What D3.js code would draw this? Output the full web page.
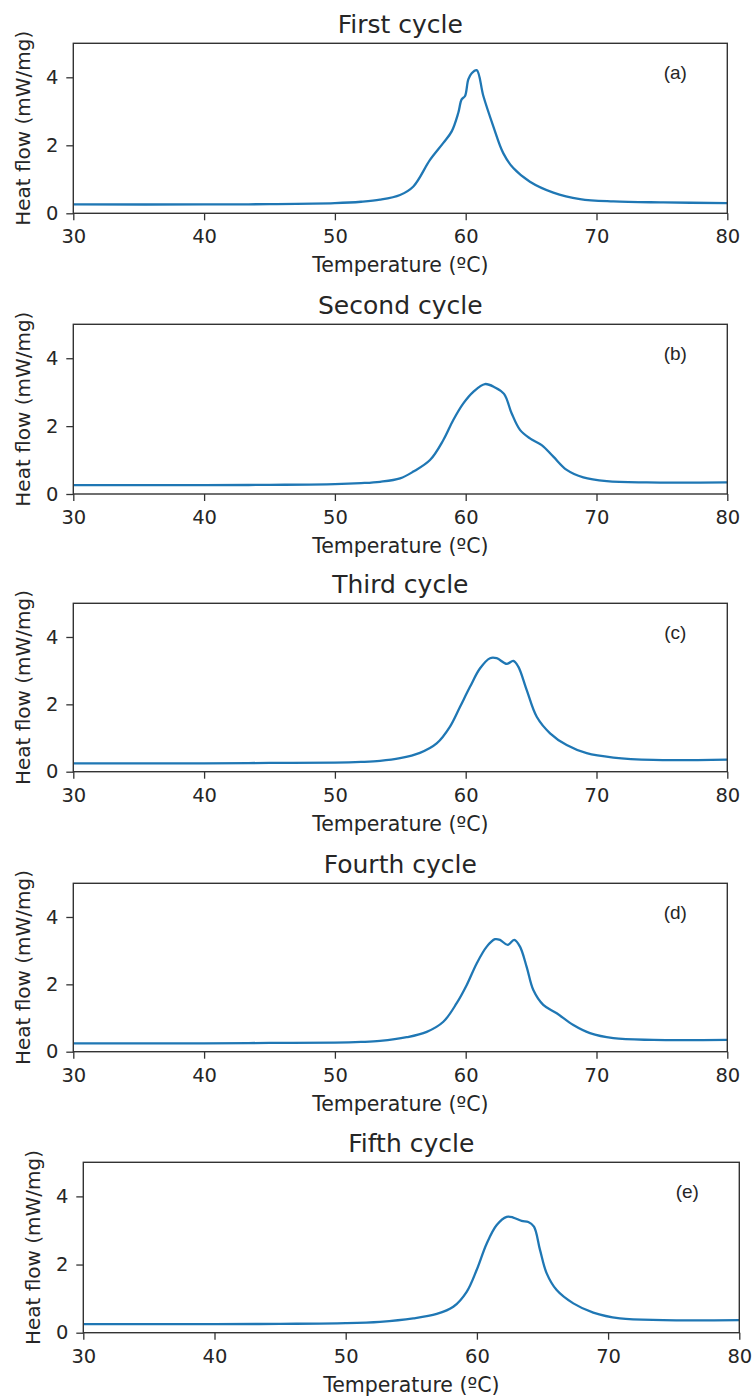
<!DOCTYPE html>
<html>
<head>
<meta charset="utf-8">
<script src="https://cdn.jsdelivr.net/npm/d3@7"></script>
<style>
  body { margin: 0; background: #fff; }
  svg text { font-family: "DejaVu Sans", sans-serif; fill: #262626; }
</style>
</head>
<body>
<div id="chart"></div>
<script>
// DSC heating curves, five cycles
var titles = ["First cycle", "Second cycle", "Third cycle", "Fourth cycle", "Fifth cycle"];
var panelLabels = ["(a)", "(b)", "(c)", "(d)", "(e)"];
var xTicks = [30, 40, 50, 60, 70, 80];
var yTicks = [0, 2, 4];

var temps1 = [30, 40, 45, 50, 52, 53.45, 54.98, 56.0, 57.27, 58.29, 58.93, 59.43, 59.69, 59.95, 60.2, 60.46, 60.84, 61.35, 62.11, 62.87, 63.64, 64.91, 66.7, 68.74, 71.29, 75.1, 80];
var flow1  = [0.26, 0.26, 0.27, 0.3, 0.34, 0.4, 0.54, 0.79, 1.57, 2.07, 2.41, 2.95, 3.35, 3.45, 3.94, 4.12, 4.21, 3.45, 2.56, 1.77, 1.33, 0.93, 0.61, 0.42, 0.35, 0.32, 0.30];

var temps2 = [30, 40, 45, 50, 52, 53.45, 54.98, 56.0, 57.27, 58.29, 59.05, 59.82, 60.58, 61.47, 62.24, 62.93, 63.51, 64.15, 64.91, 65.81, 66.7, 67.72, 68.99, 70.78, 73.84, 80];
var flow2  = [0.26, 0.26, 0.27, 0.29, 0.32, 0.36, 0.46, 0.66, 1.0, 1.59, 2.18, 2.67, 3.01, 3.24, 3.14, 2.95, 2.38, 1.89, 1.64, 1.44, 1.1, 0.71, 0.49, 0.38, 0.34, 0.34];

var temps3 = [30, 40, 45, 50, 52, 53.45, 54.98, 56.5, 57.78, 58.8, 59.57, 60.33, 61.1, 61.86, 62.37, 63.14, 63.64, 64.02, 64.66, 65.43, 66.45, 67.72, 69.25, 71.29, 74.34, 80];
var flow3  = [0.25, 0.25, 0.26, 0.27, 0.29, 0.32, 0.40, 0.56, 0.84, 1.34, 1.93, 2.52, 3.07, 3.37, 3.37, 3.2, 3.29, 3.12, 2.43, 1.63, 1.14, 0.79, 0.55, 0.42, 0.35, 0.36];

var temps4 = [30, 40, 45, 50, 52, 53.45, 55.49, 57.02, 58.29, 59.31, 60.08, 60.84, 61.61, 62.24, 62.62, 63.21, 63.71, 64.15, 64.66, 65.17, 65.93, 66.96, 68.23, 69.5, 71.29, 74.34, 80];
var flow4  = [0.25, 0.25, 0.26, 0.27, 0.29, 0.32, 0.43, 0.59, 0.89, 1.44, 1.98, 2.62, 3.12, 3.34, 3.32, 3.17, 3.32, 3.12, 2.52, 1.83, 1.39, 1.14, 0.79, 0.55, 0.40, 0.35, 0.35];

var temps5 = [30, 40, 45, 50, 52.61, 55.15, 56.94, 58.2, 59.22, 59.98, 60.75, 61.51, 62.27, 62.77, 63.41, 63.92, 64.35, 64.81, 65.32, 66.08, 67.35, 68.87, 70.9, 74.2, 80];
var flow5  = [0.25, 0.25, 0.26, 0.28, 0.32, 0.42, 0.55, 0.76, 1.2, 1.84, 2.62, 3.16, 3.4, 3.38, 3.28, 3.25, 3.11, 2.43, 1.74, 1.25, 0.86, 0.59, 0.42, 0.37, 0.37];

var allTemps = [temps1, temps2, temps3, temps4, temps5];
var allFlows = [flow1, flow2, flow3, flow4, flow5];

// plot frame of each panel (left, right, top, bottom) in page pixels
var frames = [
    [73.3, 727.3, 43.3, 213.3],
    [73.3, 727.3, 324.3, 494],
    [73.3, 727.3, 603.3, 771.7],
    [73.3, 727.3, 883.3, 1051.7],
    [83.3, 739.3, 1162.3, 1332.7]
];

var svg = d3.select("#chart").append("svg")
    .attr("width", 756)
    .attr("height", 1396);

frames.forEach(function (f, i) {
    var left = f[0], right = f[1], top = f[2], bottom = f[3];
    var x = d3.scaleLinear().domain([30, 80]).range([left, right]);
    var y = d3.scaleLinear().domain([0, 5]).range([bottom, top]);

    var g = svg.append("g").attr("class", "panel");

    // data line
    var data = allTemps[i].map(function (t, k) { return [t, allFlows[i][k]]; });
    var line = d3.line()
        .x(function (d) { return x(d[0]); })
        .y(function (d) { return y(d[1]); })
        .curve(d3.curveCatmullRom.alpha(0.5));

    g.append("path")
        .datum(data)
        .attr("d", line)
        .attr("fill", "none")
        .attr("stroke", "#1f77b4")
        .attr("stroke-width", 2.3);

    // axes
    var xAxis = d3.axisBottom(x).tickValues(xTicks).tickSize(7).tickPadding(9);
    var yAxis = d3.axisLeft(y).tickValues(yTicks).tickSize(7).tickPadding(8)
        .tickFormat(d3.format("d"));

    var gx = g.append("g").attr("transform", "translate(0," + bottom + ")").call(xAxis);
    var gy = g.append("g").attr("transform", "translate(" + left + ",0)").call(yAxis);
    [gx, gy].forEach(function (a) {
        a.select(".domain").remove();
        a.selectAll(".tick line").attr("stroke", "#333").attr("stroke-width", 1.3);
        a.selectAll(".tick text")
            .attr("font-family", "DejaVu Sans")
            .attr("font-size", 19.5)
            .attr("fill", "#262626");
    });

    // frame
    g.append("rect")
        .attr("x", left).attr("y", top)
        .attr("width", right - left).attr("height", bottom - top)
        .attr("fill", "none")
        .attr("stroke", "#333")
        .attr("stroke-width", 1.4);

    // title
    g.append("text")
        .attr("x", (left + right) / 2)
        .attr("y", top - 10)
        .attr("text-anchor", "middle")
        .attr("font-size", 25)
        .text(titles[i]);

    // x label
    g.append("text")
        .attr("x", (left + right) / 2)
        .attr("y", bottom + 59)
        .attr("text-anchor", "middle")
        .attr("font-size", 20.5)
        .text("Temperature (ºC)");

    // y label
    g.append("text")
        .attr("transform", "translate(" + (left - 43) + "," + ((top + bottom) / 2) + ") rotate(-90)")
        .attr("text-anchor", "middle")
        .attr("font-size", 20)
        .text("Heat flow (mW/mg)");

    // panel letter
    g.append("text")
        .attr("x", right - 52)
        .attr("y", top + 36)
        .attr("text-anchor", "middle")
        .style("font-family", "'Liberation Sans', sans-serif")
        .attr("font-size", 19)
        .text(panelLabels[i]);
});
</script>
</body>
</html>
